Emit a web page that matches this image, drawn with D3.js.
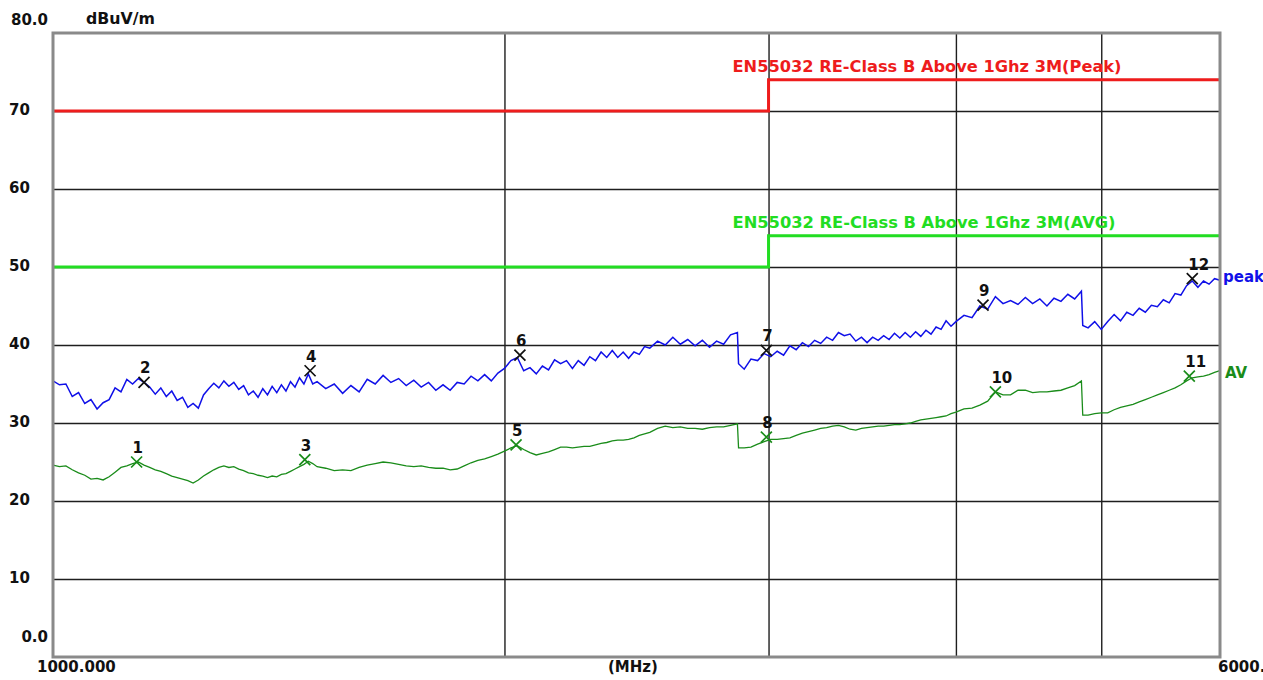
<!DOCTYPE html>
<html><head><meta charset="utf-8">
<script src="https://cdn.jsdelivr.net/npm/d3@7"></script>
<style>
html,body{margin:0;padding:0;background:#fff;overflow:hidden}
svg text{font-family:"DejaVu Sans",sans-serif;font-weight:bold}
</style></head><body>
<svg id="chart" width="1263" height="680"></svg>
<script>
// ---------- data ----------
const freq = [
1000,1010,1020,1030,1040,1050,1060,1070,1080,1090,
1100,1110,1120,1130,1140,1150,1160,1170,1180,1190,
1200,1210,1220,1230,1240,1250,1260,1270,1280,1290,
1300,1310,1320,1330,1340,1350,1360,1370,1380,1390,
1400,1410,1420,1430,1440,1450,1460,1470,1480,1490,
1500,
1520,1540,1560,1580,1600,1620,1640,1660,1680,1700,
1720,1740,1760,1780,1800,1820,1840,1860,1880,1900,
1920,1940,1960,1980,2000,2020,2040,2060,2080,2100,
2120,2140,2160,2180,2200,2220,2240,2260,2280,2300,
2320,2340,2360,2380,2400,2420,2440,2460,2480,2500,
2530,2560,2590,2620,2650,2680,2710,2740,2770,2800,
2830,2860,2865,2890,2920,2950,2980,3010,3040,3070,
3100,3130,3160,3190,3220,3250,3280,3310,3340,3370,
3400,3430,3460,3490,3520,3550,3580,3610,3640,3670,
3700,3730,3760,3790,3820,3850,3880,3910,3940,3970,
4000,
4050,4100,4150,4200,4250,4300,4350,4400,4450,4500,
4550,4600,4650,4700,4750,4800,4850,4860,4900,4950,
5000,5050,5100,5150,5200,5250,5300,5350,5400,5450,
5500,5550,5600,5650,5700,5750,5800,5850,5900,5950,
6000];

const peakTrace = [
35.4,34.9,35.0,33.4,33.9,32.5,33.0,31.8,32.6,33.0,
34.5,34.0,35.6,35.0,35.7,35.2,34.6,33.7,34.5,33.4,
34.1,32.9,33.3,32.0,32.5,31.9,33.6,34.4,35.1,34.5,
35.4,34.7,35.2,34.3,34.8,33.6,34.1,33.3,34.4,33.6,
34.7,33.9,34.9,34.1,35.3,34.6,35.8,35.0,36.3,35.0,
35.3,
34.4,35.0,33.8,34.8,34.0,35.6,35.0,36.1,35.2,35.7,
34.8,35.5,34.6,35.2,34.2,34.9,34.2,35.2,35.0,36.0,
35.4,36.2,35.4,36.4,37.0,38.0,38.4,36.7,37.1,36.3,
37.3,36.8,38.1,37.6,38.0,37.0,38.0,37.4,38.5,38.0,
39.1,38.4,39.3,38.4,39.1,38.3,39.1,38.8,39.8,39.6,
40.5,40.0,41.0,40.1,40.7,39.9,40.6,39.7,40.5,40.1,
41.3,41.6,37.6,36.9,38.2,38.0,38.9,38.5,39.2,38.7,
39.9,39.4,40.3,39.8,40.6,40.2,41.0,40.6,41.6,41.2,
41.4,40.5,41.0,40.3,41.0,40.6,41.2,40.7,41.5,40.9,
41.6,41.0,41.7,41.1,41.9,41.4,42.3,42.0,43.1,42.4,
43.0,
43.8,43.5,45.0,44.6,46.2,45.3,45.7,45.2,46.1,45.3,
45.9,45.0,46.0,45.6,46.5,45.9,46.9,42.5,42.2,43.0,
42.0,43.0,43.9,43.1,44.2,43.8,44.7,44.2,45.1,44.9,
45.8,45.4,46.6,46.4,47.6,48.2,47.4,48.2,47.8,48.5,
48.3];

const avgTrace = [
24.6,24.4,24.5,24.0,23.6,23.3,22.8,22.9,22.7,23.1,
23.7,24.3,24.5,24.8,25.0,24.6,24.3,24.0,23.8,23.5,
23.2,23.0,22.8,22.6,22.3,22.7,23.2,23.6,24.0,24.3,
24.5,24.3,24.4,24.1,23.9,23.6,23.5,23.3,23.2,23.0,
23.2,23.1,23.4,23.5,23.8,24.1,24.4,24.7,25.1,24.8,
24.4,
24.2,23.9,24.0,23.9,24.3,24.6,24.8,25.0,24.9,24.7,
24.5,24.4,24.5,24.3,24.2,24.2,24.0,24.1,24.5,24.9,
25.2,25.4,25.7,26.0,26.4,26.8,27.1,26.6,26.2,25.9,
26.1,26.3,26.6,26.9,26.9,26.8,26.9,27.0,27.0,27.2,
27.4,27.5,27.7,27.8,27.8,27.9,28.1,28.4,28.6,28.8,
29.3,29.6,29.4,29.5,29.3,29.3,29.2,29.4,29.5,29.5,
29.7,29.9,26.8,26.8,26.9,27.3,27.6,27.9,27.9,28.0,
28.1,28.4,28.7,28.9,29.1,29.3,29.4,29.6,29.7,29.5,
29.2,29.1,29.3,29.4,29.5,29.6,29.6,29.7,29.8,29.8,
29.9,30.0,30.2,30.4,30.5,30.6,30.7,30.8,30.9,31.2,
31.4,
31.8,31.9,32.3,32.8,34.0,33.6,33.6,34.2,34.2,33.9,
34.0,34.0,34.1,34.2,34.5,34.8,35.4,31.0,31.0,31.2,
31.3,31.3,31.7,32.0,32.2,32.4,32.7,33.0,33.3,33.6,
33.9,34.2,34.5,34.9,35.4,35.8,35.9,36.0,36.2,36.5,
36.7];

const limitFreq = [1000, 3000, 3000, 6000];
const peakLimit = [70, 70, 74, 74];
const avgLimit  = [50, 50, 54, 54];
const peakLimitName = "EN55032 RE-Class B Above 1Ghz 3M(Peak)";
const avgLimitName  = "EN55032 RE-Class B Above 1Ghz 3M(AVG)";

const yTicks = [0, 10, 20, 30, 40, 50, 60, 70, 80];
const yTickLabels = ["0.0", "10", "20", "30", "40", "50", "60", "70", "80.0"];
const xGridTicks = [2000, 3000, 4000, 5000];
const xStartLabel = "1000.000", xUnitLabel = "(MHz)", xEndLabel = "6000.000";
const yUnitLabel = "dBuV/m";

const markerNo    = [1, 2, 3, 4, 5, 6, 7, 8, 9, 10, 11, 12];
const markerFreq  = [1137, 1150, 1472, 1484, 2036, 2048, 2990, 2990, 4170, 4250, 5724, 5750];
const markerVal   = [25.0, 35.2, 25.3, 36.7, 27.2, 38.7, 39.3, 28.2, 45.1, 34.0, 36.0, 48.5];
const markerTrace = ["AVG","Peak","AVG","Peak","AVG","Peak","Peak","AVG","Peak","AVG","AVG","Peak"];

// ---------- drawing ----------
const svg = d3.select("#chart");
const L = 53, R = 1220, T = 33, B = 657;
const x = d3.scaleLog().domain([1000, 6000]).range([L, R]);
const y = d3.scaleLinear().domain([0, 80]).range([B, T]);

const C = {peak:"#1010e8", avg:"#1a8c1a", red:"#ee1c1c", green:"#22dd22", grid:"#1e1e1e", frame:"#8a8a8a"};

// horizontal grid
const gy = svg.append("g").attr("transform", `translate(${L},0)`)
  .call(d3.axisLeft(y).tickValues(yTicks.filter(v => v > 0 && v < 80)).tickSize(-(R - L)).tickFormat(""));
gy.select(".domain").remove();
gy.selectAll("line").attr("stroke", C.grid).attr("stroke-width", 1.4);

// vertical grid
const gx = svg.append("g").attr("transform", `translate(0,${B})`)
  .call(d3.axisBottom(x).tickValues(xGridTicks).tickSize(-(B - T)).tickFormat(""));
gx.select(".domain").remove();
gx.selectAll("line").attr("stroke", C.grid).attr("stroke-width", 1.4);

// limit lines
const line = d3.line().x(d => x(d[0])).y(d => y(d[1]));
svg.append("path").datum(limitFreq.map((f, i) => [f, peakLimit[i]]))
  .attr("d", line).attr("fill", "none").attr("stroke", C.red).attr("stroke-width", 3);
svg.append("path").datum(limitFreq.map((f, i) => [f, avgLimit[i]]))
  .attr("d", line).attr("fill", "none").attr("stroke", C.green).attr("stroke-width", 3);

// traces
svg.append("path").datum(freq.map((f, i) => [f, avgTrace[i]]))
  .attr("d", line).attr("fill", "none").attr("stroke", C.avg).attr("stroke-width", 1.3);
svg.append("path").datum(freq.map((f, i) => [f, peakTrace[i]]))
  .attr("d", line).attr("fill", "none").attr("stroke", C.peak).attr("stroke-width", 1.5);

// frame
svg.append("rect").attr("x", L).attr("y", T).attr("width", R - L).attr("height", B - T)
  .attr("fill", "none").attr("stroke", C.frame).attr("stroke-width", 3);

// limit labels
svg.append("text").attr("x", x(3000) - 36).attr("y", y(74) - 13).attr("dy", "0.35em")
  .attr("fill", C.red).attr("font-size", 16).attr("textLength", 389).attr("lengthAdjust", "spacingAndGlyphs")
  .text(peakLimitName);
svg.append("text").attr("x", x(3000) - 36).attr("y", y(54) - 13).attr("dy", "0.35em")
  .attr("fill", C.green).attr("font-size", 16).attr("textLength", 383).attr("lengthAdjust", "spacingAndGlyphs")
  .text(avgLimitName);

// markers
const mk = svg.append("g");
markerNo.forEach((n, i) => {
  const cx = x(markerFreq[i]), cy = y(markerVal[i]);
  const col = markerTrace[i] === "Peak" ? "#111" : C.avg;
  mk.append("path").attr("d", `M${cx-5.5},${cy-5.5}L${cx+5.5},${cy+5.5}M${cx+5.5},${cy-5.5}L${cx-5.5},${cy+5.5}`)
    .attr("stroke", col).attr("stroke-width", 1.7).attr("fill", "none");
  mk.append("text").attr("x", cx - 4).attr("y", cy - 9).attr("font-size", 15).attr("fill", "#111").text(n);
});

// trace names at right
svg.append("text").attr("x", R + 3).attr("y", y(peakTrace[peakTrace.length-1]) - 4).attr("dy", "0.35em")
  .attr("font-size", 15).attr("fill", C.peak).text("peak");
svg.append("text").attr("x", R + 5).attr("y", y(avgTrace[avgTrace.length-1]) + 2).attr("dy", "0.35em")
  .attr("font-size", 15).attr("fill", C.avg).text("AV");

// y tick labels
yTicks.forEach((v, i) => {
  const t = svg.append("text").attr("font-size", 15).attr("fill", "#111").attr("dy", "0.35em").text(yTickLabels[i]);
  if (v === 0) t.attr("x", 48).attr("text-anchor", "end").attr("y", y(0) - 20);
  else if (v === 80) t.attr("x", 48).attr("text-anchor", "end").attr("y", y(80) - 13);
  else t.attr("x", 9).attr("y", y(v) - 1.5);
});
svg.append("text").attr("x", 86).attr("y", y(80) - 14).attr("dy", "0.35em").attr("font-size", 15)
  .attr("textLength", 69).attr("lengthAdjust", "spacingAndGlyphs")
  .attr("fill", "#111").text(yUnitLabel);

// x labels
svg.append("text").attr("x", 37).attr("y", 667).attr("dy", "0.35em").attr("font-size", 15).attr("fill", "#111").text(xStartLabel);
svg.append("text").attr("x", 608).attr("y", 667).attr("dy", "0.35em").attr("font-size", 15).attr("fill", "#111").text(xUnitLabel);
svg.append("text").attr("x", 1218).attr("y", 667).attr("dy", "0.35em").attr("font-size", 15).attr("fill", "#111").text(xEndLabel);
</script>
</body></html>
